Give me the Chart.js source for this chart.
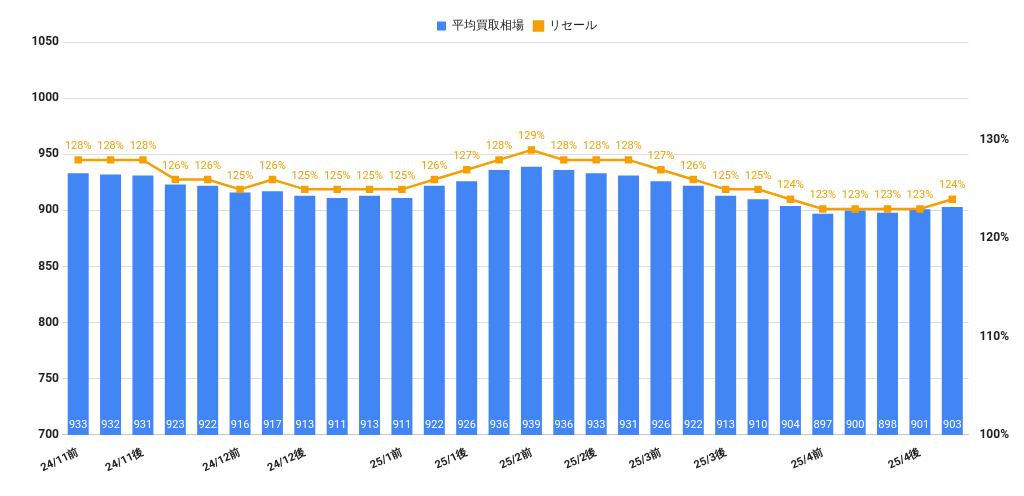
<!DOCTYPE html>
<html><head><meta charset="utf-8">
<script src="https://cdn.jsdelivr.net/npm/chart.js@4"></script>
<style>body{margin:0;background:#fff}#wrap{width:1024px;height:496px}</style>
</head><body><div id="wrap"><canvas id="c"></canvas></div>
<script>
const labels = ['24/11前','','24/11後','','','24/12前','','24/12後','','','25/1前','','25/1後','','25/2前','','25/2後','','25/3前','','25/3後','','','25/4前','','','25/4後',''];
const buyPrice = [933,932,931,923,922,916,917,913,911,913,911,922,926,936,939,936,933,931,926,922,913,910,904,897,900,898,901,903];
const resale = [128,128,128,126,126,125,126,125,125,125,125,126,127,128,129,128,128,128,127,126,125,125,124,123,123,123,123,124];

const blue = '#4285F4', orange = '#F5A000';

const labelPlugin = {
    id: 'valueLabels',
    afterDatasetsDraw(chart) {
        const c = chart.ctx;
        c.save();
        c.font = '11px Roboto';
        c.textAlign = 'center';
        chart.getDatasetMeta(0).data.forEach((bar, i) => {
            c.fillStyle = '#fff';
            c.textBaseline = 'bottom';
            c.fillText(buyPrice[i], bar.x, chart.chartArea.bottom - 4);
        });
        chart.getDatasetMeta(1).data.forEach((pt, i) => {
            c.fillStyle = orange;
            c.textBaseline = 'bottom';
            c.fillText(resale[i] + '%', pt.x, pt.y - 8);
        });
        c.restore();
    }
};

new Chart(document.getElementById('c'), {
    data: {
        labels: labels,
        datasets: [
            {
                type: 'bar', label: '平均買取相場', data: buyPrice,
                backgroundColor: blue, yAxisID: 'y', order: 2,
                categoryPercentage: 0.9, barPercentage: 0.72
            },
            {
                type: 'line', label: 'リセール', data: resale,
                borderColor: orange, backgroundColor: orange, borderWidth: 2.5,
                pointStyle: 'rect', pointRadius: 3.5, yAxisID: 'y1', order: 1
            }
        ]
    },
    options: {
        responsive: true,
        maintainAspectRatio: false,
        animation: false,
        layout: { padding: { left: 22, right: 12, top: 10, bottom: 18 } },
        plugins: {
            legend: {
                labels: {
                    font: { family: 'Roboto', size: 12 }, color: '#222', boxWidth: 9, boxHeight: 9,
                    sort: (a, b) => a.datasetIndex - b.datasetIndex
                }
            },
            tooltip: { enabled: false }
        },
        scales: {
            x: {
                grid: { display: false },
                ticks: {
                    autoSkip: false, maxRotation: 25, minRotation: 25,
                    font: { family: 'Roboto', size: 11, weight: 'bold' }, color: '#222'
                }
            },
            y: {
                min: 700, max: 1050,
                afterFit: s => { s.width = 40; },
                ticks: { stepSize: 50, font: { family: 'Roboto', size: 12, weight: 'bold' }, color: '#222', callback: v => String(v) },
                grid: { color: '#ddd', drawTicks: false },
                border: { display: false }
            },
            y1: {
                position: 'right', min: 100, max: 140,
                ticks: {
                    stepSize: 10, font: { family: 'Roboto', size: 12, weight: 'bold' }, color: '#222',
                    callback: v => v === 140 ? '' : v + '%'
                },
                grid: { display: false },
                border: { display: false }
            }
        }
    },
    plugins: [labelPlugin]
});
</script></body></html>
